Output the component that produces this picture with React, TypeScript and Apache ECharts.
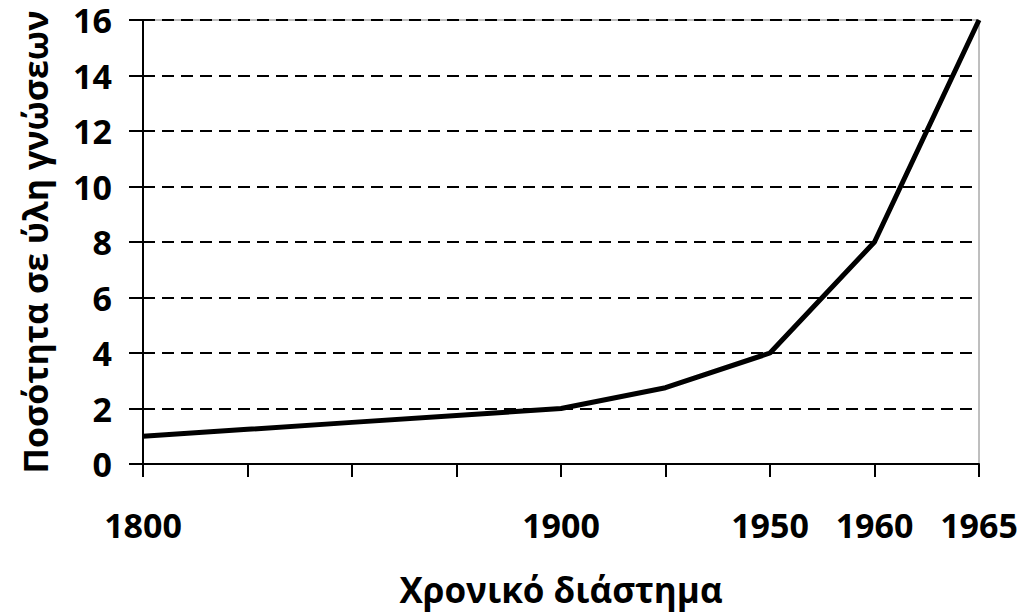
import React, { useEffect, useRef } from "react";
import * as echarts from "echarts";

const categories = ["1800", "", "", "", "1900", "", "1950", "1960", "1965"];
const values = [1.0, 1.25, 1.5, 1.75, 2.0, 2.75, 4.0, 8.0, 16.0];
const yMin = 0;
const yMax = 16;
const yInterval = 2;
const xTitle = "Χρονικό διάστημα";
const yTitle = "Ποσότητα σε ύλη γνώσεων";

const FONT = "'Open Sans', sans-serif";

export default function App() {
  const ref = useRef<HTMLDivElement>(null);
  useEffect(() => {
    if (!ref.current) return;
    const chart = echarts.init(ref.current, undefined, { renderer: "svg" });
    chart.setOption({
      animation: false,
      backgroundColor: "#ffffff",
      grid: {
        left: 143,
        right: 52,
        top: 20,
        bottom: 152,
        show: true,
        borderColor: "#7f7f7f",
        borderWidth: 1,
      },
      xAxis: {
        type: "category",
        data: categories,
        boundaryGap: false,
        name: xTitle,
        nameLocation: "middle",
        nameGap: 108,
        nameTextStyle: { fontFamily: FONT, fontWeight: "bold", fontSize: 35, color: "#000" },
        axisLine: { lineStyle: { color: "#000", width: 2 } },
        axisTick: { show: true, inside: false, length: 13, alignWithLabel: true, interval: 0, lineStyle: { color: "#000", width: 2 } },
        axisLabel: { interval: 0, margin: 44, fontFamily: FONT, fontWeight: "bold", fontSize: 34, color: "#000" },
        splitLine: { show: false },
      },
      yAxis: [
        {
          type: "value",
          min: yMin,
          max: yMax,
          interval: yInterval,
          position: "left",
          name: yTitle,
          nameLocation: "middle",
          nameGap: 91,
          nameRotate: 90,
          nameTextStyle: { fontFamily: FONT, fontWeight: "bold", fontSize: 34, color: "#000" },
          axisLine: { show: true, lineStyle: { color: "#000", width: 2 } },
          axisTick: { show: true, inside: false, length: 14, lineStyle: { color: "#000", width: 2 } },
          axisLabel: { margin: 31, lineHeight: 34, fontFamily: FONT, fontWeight: "bold", fontSize: 34, color: "#000" },
          splitLine: { show: true, lineStyle: { color: "#000", width: 2, type: [12, 7] } },
        },
        {
          type: "value",
          min: yMin,
          max: yMax,
          interval: yInterval,
          position: "left",
          axisLine: { show: false },
          axisTick: { show: true, inside: true, length: 10, lineStyle: { color: "#000", width: 2 } },
          axisLabel: { show: false },
          splitLine: { show: false },
        },
      ],
      series: [
        {
          type: "line",
          data: values,
          yAxisIndex: 0,
          symbol: "none",
          lineStyle: { color: "#000", width: 5 },
        },
      ],
    });
    return () => chart.dispose();
  }, []);
  return (
    <div
      ref={ref}
      style={{ position: "absolute", left: 0, top: 0, width: 1031, height: 616 }}
    />
  );
}
